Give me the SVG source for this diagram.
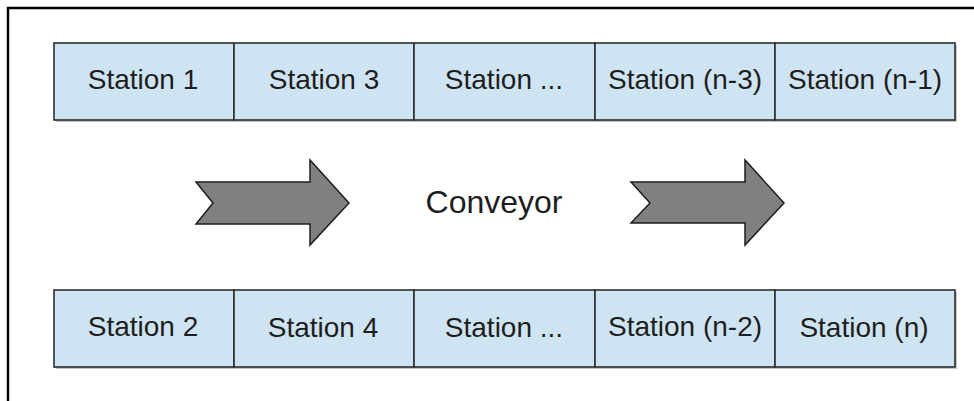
<svg xmlns="http://www.w3.org/2000/svg" width="974" height="401" viewBox="0 0 974 401">
  <style>
    .cell { fill: #cfe4f2; stroke: #2e2e2e; stroke-width: 1.6; }
    .shadow { fill: #a0a0a0; opacity: 0.6; }
    .label { font-family: "Liberation Sans", Arial, sans-serif; font-size: 28px; fill: #1e1e1e; text-anchor: middle; }
    .big { font-size: 32px; }
    .arrow { fill: #808080; stroke: #1e1e1e; stroke-width: 1.5; stroke-linejoin: miter; }
    .frame { stroke: #000; stroke-width: 2.4; fill: none; }
  </style>

  <rect width="974" height="401" fill="#ffffff"/>

  <!-- outer frame (open on right and bottom) -->
  <path class="frame" d="M8,401 V8 H974"/>

  <!-- row shadows -->
  <rect class="shadow" x="56" y="45" width="901" height="77"/>
  <rect class="shadow" x="56" y="292" width="901" height="77"/>

  <!-- top row -->
  <g id="station-1"><rect class="cell" x="54" y="43" width="180" height="77"/><text class="label" x="143" y="89">Station 1</text></g>
  <g id="station-3"><rect class="cell" x="234" y="43" width="180" height="77"/><text class="label" x="324" y="89">Station 3</text></g>
  <g id="station-dots-top"><rect class="cell" x="414" y="43" width="181" height="77"/><text class="label" x="504" y="89">Station ...</text></g>
  <g id="station-n-3"><rect class="cell" x="595" y="43" width="180" height="77"/><text class="label" x="685" y="89">Station (n-3)</text></g>
  <g id="station-n-1"><rect class="cell" x="775" y="43" width="180" height="77"/><text class="label" x="865" y="89">Station (n-1)</text></g>

  <!-- bottom row -->
  <g id="station-2"><rect class="cell" x="54" y="290" width="180" height="77"/><text class="label" x="143" y="336">Station 2</text></g>
  <g id="station-4"><rect class="cell" x="234" y="290" width="180" height="77"/><text class="label" x="323" y="337">Station 4</text></g>
  <g id="station-dots-bottom"><rect class="cell" x="414" y="290" width="181" height="77"/><text class="label" x="504" y="337">Station ...</text></g>
  <g id="station-n-2"><rect class="cell" x="595" y="290" width="180" height="77"/><text class="label" x="685" y="336">Station (n-2)</text></g>
  <g id="station-n"><rect class="cell" x="775" y="290" width="180" height="77"/><text class="label" x="864" y="337">Station (n)</text></g>

  <!-- conveyor direction arrows -->
  <g id="connectors">
    <polygon class="arrow" points="196,182 310,182 310,160 349,203 310,245 310,224 196,224 213,203"/>
    <polygon class="arrow" points="631,182 745,182 745,160 784,203 745,245 745,223 631,223 650,203"/>
  </g>

  <g id="conveyor"><text class="label big" x="494" y="213">Conveyor</text></g>
</svg>
